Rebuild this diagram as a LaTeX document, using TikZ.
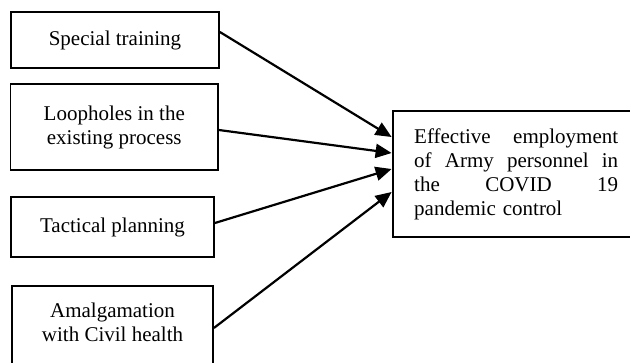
\documentclass[tikz,border=0pt]{standalone}
\usepackage{fontspec}
\setmainfont{Liberation Serif}
\usetikzlibrary{arrows.meta}
\tikzset{
  srcbox/.style={draw, line width=1.8pt, inner sep=0pt, align=center,
    font=\fontsize{21}{24}\selectfont},
  tgtbox/.style={draw, line width=2.8pt, inner sep=0pt,
    font=\fontsize{21}{24}\selectfont},
  link/.style={line width=2.2pt, -{Triangle[length=16pt,width=14pt]}}
}
\newcommand{\jline}[1]{\makebox[204pt][l]{#1}}
\begin{document}
\begin{tikzpicture}[x=1pt,y=1pt]
\useasboundingbox (0,0) rectangle (630,-362);
\clip (0,0) rectangle (630,-362);
\node[srcbox, minimum width=208pt, minimum height=56pt] (b1) at (115,-40) {Special training};
\node[srcbox, minimum width=207.5pt, minimum height=86pt] (b2) at (114.25,-127) {Loopholes in the\\existing process};
\node[srcbox, minimum width=203pt, minimum height=60pt] (b3) at (112.5,-227) {Tactical planning};
\node[srcbox, minimum width=201pt, minimum height=104pt] (b4) at (112.5,-338) {Amalgamation\\with Civil health\\\strut};
\node[tgtbox, minimum width=257pt, minimum height=126pt] (t) at (521.5,-174) {};
\node[font=\fontsize{21}{24}\selectfont, align=left, text width=204pt, inner sep=0pt, anchor=west] (tt) at (414,-174)
  {\jline{Effective\hfill employment}\\
   \jline{of\hfill Army\hfill personnel\hfill in}\\
   \jline{the\hfill COVID\hfill 19}\\
   pandemic control};
\draw[link] ([yshift=8pt]b1.east) -- ([yshift=37pt]t.west);
\draw[link] ([yshift=-3pt]b2.east) -- ([yshift=21pt]t.west);
\draw[link] ([yshift=4pt]b3.east) -- ([yshift=5pt]t.west);
\draw[link] ([yshift=10pt]b4.east) -- ([yshift=-18pt]t.west);
\end{tikzpicture}
\end{document}
